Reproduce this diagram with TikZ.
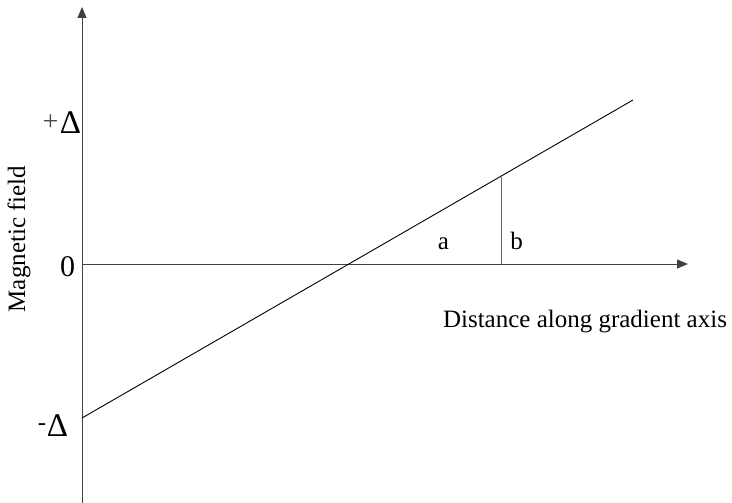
\documentclass[tikz,border=0pt]{standalone}
\usepackage{fontspec}
\setmainfont{Liberation Serif}
\usetikzlibrary{arrows.meta}
\begin{document}
\begin{tikzpicture}[x=1pt,y=-1pt,
  axis/.style={draw=black!75,line width=0.9pt,-{Triangle[length=11pt,width=9pt]}},
  lbl/.style={inner sep=0pt,font=\fontsize{25}{28}\selectfont},
  big/.style={inner sep=0pt,font=\fontsize{33}{36}\selectfont}]
\useasboundingbox (0,0) rectangle (732,503);
\coordinate (o) at (82,264);
\coordinate (ybot) at (82,503);
\coordinate (ytop) at (82,7);
\coordinate (xend) at (688,264);
\coordinate (lstart) at (82,418);
\coordinate (lend) at (633,100);
\coordinate (bfoot) at (501,264);
\coordinate (btop) at (501,176.5);
\draw[axis] (ybot) -- (ytop);
\draw[axis] (o) -- (xend);
\draw[black,line width=0.9pt] (lstart) -- (lend);
\draw[black!60,line width=0.9pt] (bfoot) -- (btop);
\node[lbl,font=\fontsize{28}{30}\selectfont,text=black!70,anchor=base east] (plus) at (58.5,131) {+};
\node[big,anchor=base] (pdelta) at (70.5,133) {Δ};
\node[lbl,font=\fontsize{30}{32}\selectfont,anchor=base] (zero) at (67.5,276) {0};
\node[lbl,anchor=base east] (minus) at (46.5,430) {-};
\node[big,anchor=base] (mdelta) at (57.5,436) {Δ};
\node[lbl,rotate=90,anchor=base] (ylab) at (25,239) {Magnetic field};
\node[lbl,anchor=base] (a) at (443.5,249) {a};
\node[lbl,anchor=base] (b) at (516.5,249) {b};
\node[lbl,anchor=base] (xlab) at (585,327) {Distance along gradient axis};
\end{tikzpicture}
\end{document}
